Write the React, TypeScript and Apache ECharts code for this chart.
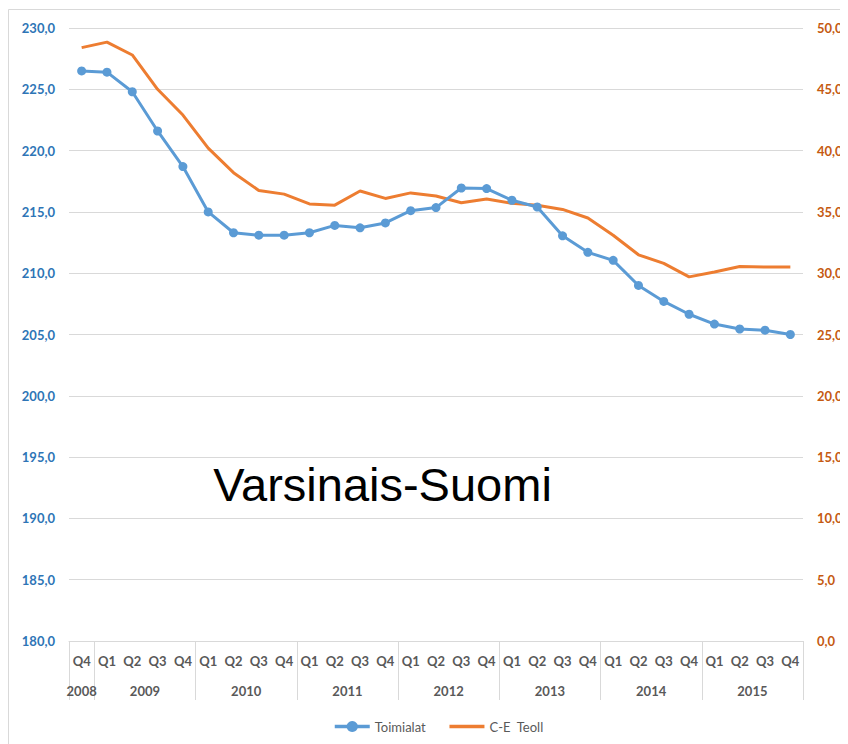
import React, { useEffect, useRef } from "react";
import * as echarts from "echarts";

const quarters = [
  "Q4",
  "Q1", "Q2", "Q3", "Q4",
  "Q1", "Q2", "Q3", "Q4",
  "Q1", "Q2", "Q3", "Q4",
  "Q1", "Q2", "Q3", "Q4",
  "Q1", "Q2", "Q3", "Q4",
  "Q1", "Q2", "Q3", "Q4",
  "Q1", "Q2", "Q3", "Q4",
];
const years = ["2008", "2009", "2010", "2011", "2012", "2013", "2014", "2015"];
const quartersPerYear = [1, 4, 4, 4, 4, 4, 4, 4];

const toimialat = [
  226.5, 226.4, 224.8, 221.6, 218.7,
  215.0, 213.3, 213.1, 213.1,
  213.3, 213.9, 213.7, 214.1,
  215.1, 215.35, 216.95, 216.9,
  215.95, 215.4, 213.05, 211.7,
  211.05, 209.0, 207.7, 206.65,
  205.85, 205.45, 205.35, 205.0,
];
const ceTeoll = [
  48.4, 48.85, 47.8, 45.0, 42.9,
  40.2, 38.2, 36.75, 36.45,
  35.65, 35.55, 36.7, 36.1,
  36.55, 36.3, 35.75, 36.05,
  35.7, 35.55, 35.2, 34.5,
  33.1, 31.5, 30.8, 29.7,
  30.1, 30.55, 30.5, 30.5,
];

const seriesNames = ["Toimialat", "C-E  Teoll"];
const leftAxis = { min: 180, max: 230, interval: 5 };
const rightAxis = { min: 0, max: 50, interval: 5 };

export default function App() {
  const ref = useRef<HTMLDivElement>(null);

  useEffect(() => {
    if (!ref.current) return;
    const chart = echarts.init(ref.current, null, { renderer: "svg" });

    // Build half-step year axis (2 * n + 1 points, boundaryGap false)
    const n = quarters.length;
    const yearAxisData: string[] = new Array(2 * n + 1).fill("");
    const tickSet = new Set<number>();
    let start = 0;
    years.forEach((y, i) => {
      const c = quartersPerYear[i];
      tickSet.add(2 * start);
      yearAxisData[2 * start + c] = y;
      start += c;
    });
    tickSet.add(2 * start);

    const fmt = (v: number) => v.toFixed(1).replace(".", ",");
    const labelFont = "Lato";

    chart.setOption({
      animation: false,
      backgroundColor: "#ffffff",
      grid: { left: 61, right: 45, top: 20, bottom: 103, containLabel: false },
      graphic: [
        {
          type: "rect",
          shape: { x: 0.5, y: 1.5, width: 900, height: 900 },
          style: { fill: "none", stroke: "#D9D9D9", lineWidth: 1 },
          silent: true,
          z: -10,
        },
        {
          type: "text",
          x: 374.5,
          y: 476.5,
          style: {
            text: "Varsinais-Suomi",
            font: "47px 'Liberation Sans', Arial, sans-serif",
            fill: "#000000",
            textAlign: "center",
            textVerticalAlign: "middle",
          },
          z: 10,
        },
      ],
      legend: {
        data: [
          { name: seriesNames[0] },
          { name: seriesNames[1], itemStyle: { opacity: 0 } },
        ],
        left: 320,
        top: 707,
        itemWidth: 35,
        itemHeight: 14,
        itemGap: 22,
        lineStyle: { width: 3.5 },
        textStyle: { color: "#595959", fontSize: 13, fontFamily: labelFont },
      },
      xAxis: [
        {
          type: "category",
          data: quarters,
          boundaryGap: true,
          position: "bottom",
          axisLine: { show: false, onZero: false },
          axisTick: { show: false },
          axisLabel: {
            interval: 0,
            margin: 13,
            color: "#595959",
            fontWeight: "bold",
            fontSize: 13,
            fontFamily: labelFont,
          },
        },
        {
          type: "category",
          data: yearAxisData,
          boundaryGap: false,
          position: "bottom",
          axisLine: { show: true, onZero: false, lineStyle: { color: "#D9D9D9", width: 1 } },
          axisTick: {
            show: true,
            length: 59,
            interval: (index: number) => tickSet.has(index),
            lineStyle: { color: "#D9D9D9", width: 1 },
          },
          axisLabel: {
            interval: 0,
            margin: 43,
            color: "#595959",
            fontWeight: "bold",
            fontSize: 13,
            fontFamily: labelFont,
          },
          splitLine: { show: false },
        },
      ],
      yAxis: [
        {
          type: "value",
          position: "left",
          min: leftAxis.min,
          max: leftAxis.max,
          interval: leftAxis.interval,
          axisLine: { show: false },
          axisTick: { show: false },
          axisLabel: {
            margin: 14,
            color: "#2E75B6",
            fontWeight: "bold",
            fontSize: 13,
            fontFamily: labelFont,
            formatter: fmt,
          },
          splitLine: { show: true, lineStyle: { color: "#D9D9D9", width: 1 } },
        },
        {
          type: "value",
          position: "right",
          min: rightAxis.min,
          max: rightAxis.max,
          interval: rightAxis.interval,
          axisLine: { show: false },
          axisTick: { show: false },
          axisLabel: {
            margin: 14,
            color: "#C55A11",
            fontWeight: "bold",
            fontSize: 13,
            fontFamily: labelFont,
            formatter: fmt,
          },
          splitLine: { show: false },
        },
      ],
      series: [
        {
          name: seriesNames[0],
          type: "line",
          xAxisIndex: 0,
          yAxisIndex: 0,
          data: toimialat,
          symbol: "circle",
          symbolSize: 9,
          itemStyle: { color: "#5B9BD5" },
          lineStyle: { color: "#5B9BD5", width: 3 },
          z: 3,
        },
        {
          name: seriesNames[1],
          type: "line",
          xAxisIndex: 0,
          yAxisIndex: 1,
          data: ceTeoll,
          showSymbol: false,
          symbol: "none",
          itemStyle: { color: "#ED7D31" },
          lineStyle: { color: "#ED7D31", width: 3 },
          z: 2,
        },
      ],
    });

    return () => chart.dispose();
  }, []);

  return <div ref={ref} style={{ width: 840, height: 736 }} />;
}
